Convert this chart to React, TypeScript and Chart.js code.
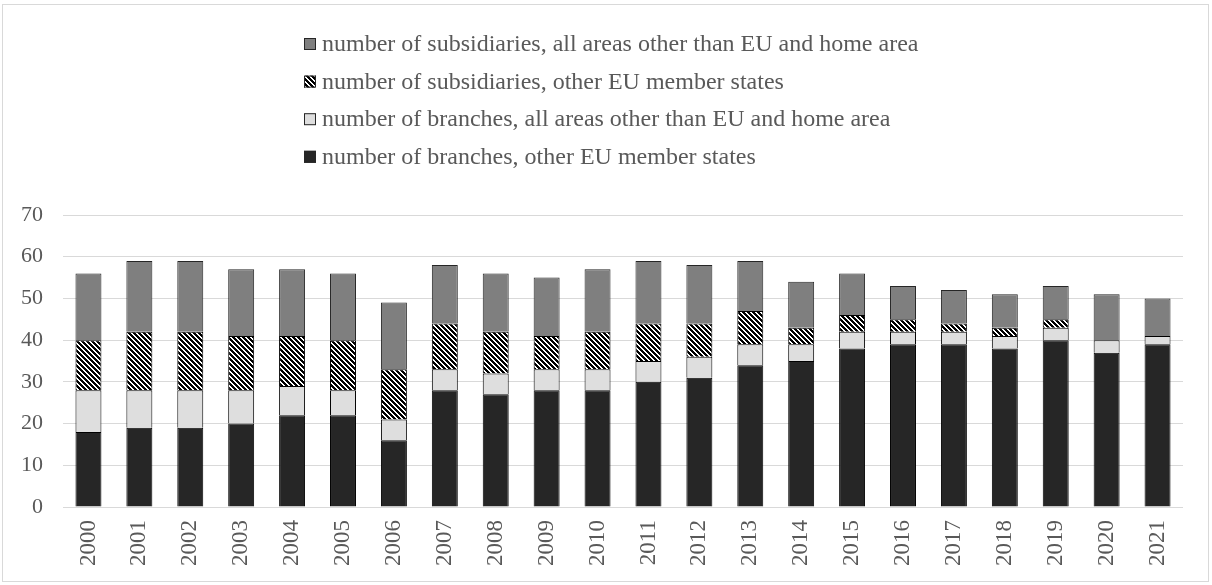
import React, { useEffect, useRef } from "react";
import { Chart, registerables } from "chart.js";

Chart.register(...registerables);

const years = ["2000","2001","2002","2003","2004","2005","2006","2007","2008","2009","2010","2011","2012","2013","2014","2015","2016","2017","2018","2019","2020","2021"];
const branchesEU = [18,19,19,20,22,22,16,28,27,28,28,30,31,34,35,38,39,39,38,40,37,39];
const branchesOther = [10,9,9,8,7,6,5,5,5,5,5,5,5,5,4,4,3,3,3,3,3,2];
const subsidiariesEU = [12,14,14,13,12,12,12,11,10,8,9,9,8,8,4,4,3,2,2,2,0,0];
const subsidiariesOther = [16,17,17,16,16,16,16,14,14,14,15,15,14,12,11,10,8,8,8,8,11,9];
const yTicks = [0,10,20,30,40,50,60,70];

const labelBranchesEU = "number of branches, other EU member states";
const labelBranchesOther = "number of branches, all areas other than EU and home area";
const labelSubsEU = "number of subsidiaries, other EU member states";
const labelSubsOther = "number of subsidiaries, all areas other than EU and home area";

const FONT = "'Liberation Serif', 'Times New Roman', serif";
const TEXT = "#595959";

function makeHatch(): CanvasPattern | string {
  const n = 5;
  const c = document.createElement("canvas");
  c.width = n;
  c.height = n;
  const g = c.getContext("2d");
  if (!g) return "#000";
  const img = g.createImageData(n, n);
  for (let y = 0; y < n; y++) {
    for (let x = 0; x < n; x++) {
      const k = (((x - y) % n) + n) % n;
      const black = k < 3;
      const i = (y * n + x) * 4;
      const v = black ? 0 : 255;
      img.data[i] = v;
      img.data[i + 1] = v;
      img.data[i + 2] = v;
      img.data[i + 3] = 255;
    }
  }
  g.putImageData(img, 0, 0);
  const p = g.createPattern(c, "repeat");
  return p || "#000";
}

const verticalLegend = {
  id: "verticalLegend",
  afterDraw(chart: any) {
    const ctx = chart.ctx;
    const order = [3, 2, 1, 0];
    const x0 = 304;
    const y0 = 44;
    const step = 37.6;
    const box = 12;
    ctx.save();
    ctx.font = `24px ${FONT}`;
    ctx.textBaseline = "middle";
    ctx.textAlign = "left";
    order.forEach((di, i) => {
      const ds = chart.data.datasets[di];
      const y = y0 + i * step;
      ctx.fillStyle = ds.backgroundColor;
      ctx.fillRect(x0, y - box / 2, box, box);
      ctx.strokeStyle = "#262626";
      ctx.lineWidth = 1;
      ctx.strokeRect(x0 + 0.5, y - box / 2 + 0.5, box - 1, box - 1);
      ctx.fillStyle = TEXT;
      ctx.fillText(ds.label, x0 + 18, y + 1);
    });
    ctx.restore();
  },
};

export default function App() {
  const ref = useRef<HTMLCanvasElement | null>(null);

  useEffect(() => {
    if (!ref.current) return;
    const hatch = makeHatch();
    const chart = new Chart(ref.current, {
      type: "bar",
      data: {
        labels: years,
        datasets: [
          { label: labelBranchesEU, data: branchesEU, backgroundColor: "#262626", borderColor: "#000000", borderWidth: 1 },
          { label: labelBranchesOther, data: branchesOther, backgroundColor: "#dedede", borderColor: "#000000", borderWidth: 1 },
          { label: labelSubsEU, data: subsidiariesEU, backgroundColor: hatch as any, borderColor: "#000000", borderWidth: 1 },
          { label: labelSubsOther, data: subsidiariesOther, backgroundColor: "#7f7f7f", borderColor: "#262626", borderWidth: 1 },
        ],
      },
      options: {
        responsive: false,
        animation: false,
        layout: { padding: { left: 0, right: 29, top: 215, bottom: 0 } },
        datasets: { bar: { categoryPercentage: 1, barPercentage: 0.51 } } as any,
        plugins: {
          legend: { display: false },
          tooltip: { enabled: false },
        },
        scales: {
          x: {
            stacked: true,
            grid: { display: false },
            border: { display: false },
            ticks: {
              autoSkip: false,
              minRotation: 90,
              maxRotation: 90,
              padding: 5,
              color: TEXT,
              font: { family: FONT, size: 23 },
            },
            afterFit(scale: any) {
              scale.height = 78;
            },
          },
          y: {
            stacked: true,
            min: 0,
            max: 70,
            afterBuildTicks(scale: any) {
              scale.ticks = yTicks.map((v) => ({ value: v }));
            },
            grid: { color: "#d9d9d9", lineWidth: 1, drawTicks: false },
            border: { display: false },
            ticks: {
              padding: 20,
              color: TEXT,
              font: { family: FONT, size: 22 },
            },
            afterFit(scale: any) {
              scale.width = 63;
            },
          },
        },
      },
      plugins: [verticalLegend],
    });
    return () => chart.destroy();
  }, []);

  return (
    <div style={{ position: "absolute", left: 0, top: 0, width: 1212, height: 585, background: "#fff" }}>
      <div
        style={{
          position: "absolute",
          left: 2,
          top: 4,
          width: 1207,
          height: 578,
          border: "1px solid #d9d9d9",
          boxSizing: "border-box",
        }}
      />
      <canvas ref={ref} width={1212} height={585} style={{ position: "absolute", left: 0, top: 0 }} />
    </div>
  );
}
